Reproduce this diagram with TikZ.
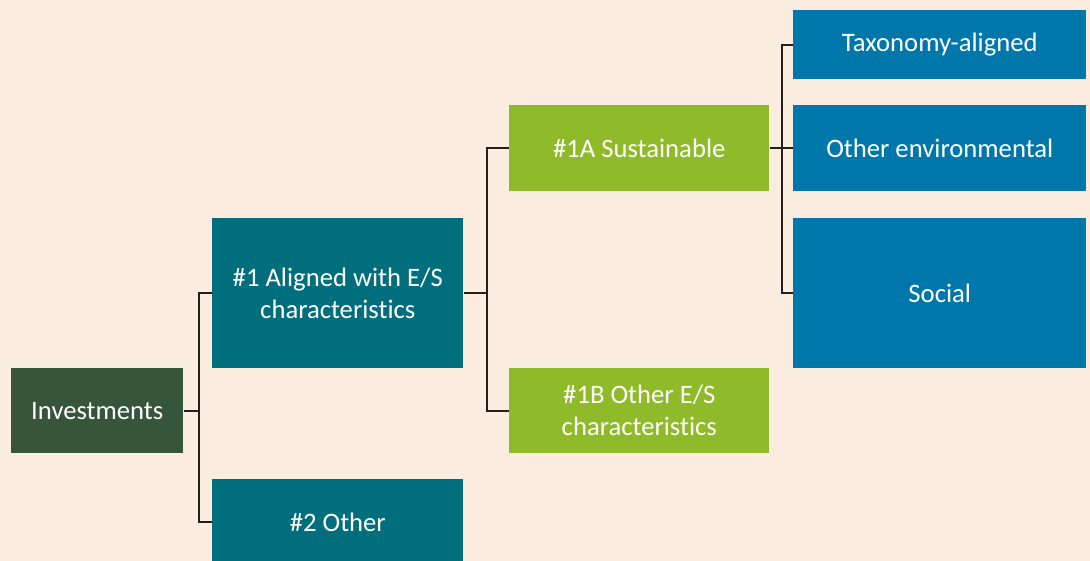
\documentclass[tikz,border=0pt]{standalone}
\usepackage{fontspec}
\setmainfont{Carlito}[Ligatures={NoCommon,NoContextual}]
\usetikzlibrary{positioning}
\definecolor{bg}{RGB}{250,237,223}
\definecolor{darkgreen}{RGB}{54,85,58}
\definecolor{teal1}{RGB}{0,110,124}
\definecolor{lightgreen}{RGB}{143,187,42}
\definecolor{blue1}{RGB}{0,119,170}
\definecolor{line1}{RGB}{35,31,32}
\tikzset{
  box/.style={rectangle, inner sep=0pt, anchor=north west, align=center, text=white,
    font=\fontsize{20}{24}\selectfont},
  conn/.style={line1, line width=1.5pt}
}
\begin{document}
\begin{tikzpicture}[x=0.75pt, y=-0.75pt]
  \fill[bg] (0,0) rectangle (1090,561);
  \useasboundingbox (0,0) rectangle (1090,561);
  % left part
  \node[box, fill=darkgreen, minimum width=129pt, minimum height=63.75pt] (inv) at (11,368) {Investments};
  \node[box, fill=teal1, minimum width=188.25pt, minimum height=112.5pt] (es) at (212,218) {\#1 Aligned with E/S\\characteristics};
  \node[box, fill=teal1, minimum width=188.25pt, minimum height=64.5pt] (other) at (212,479) {\#2 Other};
  % middle part
  \node[box, fill=lightgreen, minimum width=195pt, minimum height=64.5pt] (sust) at (509,105) {\#1A Sustainable};
  \node[box, fill=lightgreen, minimum width=195pt, minimum height=63.75pt] (oes) at (509,368) {\#1B Other E/S\\characteristics};
  % right part
  \node[box, fill=blue1, minimum width=219.75pt, minimum height=51.75pt] (tax) at (793,10) {Taxonomy-aligned};
  \node[box, fill=blue1, minimum width=219.75pt, minimum height=64.5pt] (env) at (793,105) {Other environmental};
  \node[box, fill=blue1, minimum width=219.75pt, minimum height=112.5pt] (soc) at (793,218) {Social};
  % connectors
  \draw[conn] (inv.east) -- ++(15,0) coordinate (j1) |- (es.west);
  \draw[conn] (j1) |- (other.west);
  \draw[conn] (es.east) -- ++(23,0) coordinate (j2) |- (sust.west);
  \draw[conn] (j2) |- (oes.west);
  \draw[conn] (sust.east) -- ++(12,0) coordinate (j3) |- (tax.west);
  \draw[conn] (j3) -- (env.west);
  \draw[conn] (j3) |- (soc.west);
\end{tikzpicture}
\end{document}
